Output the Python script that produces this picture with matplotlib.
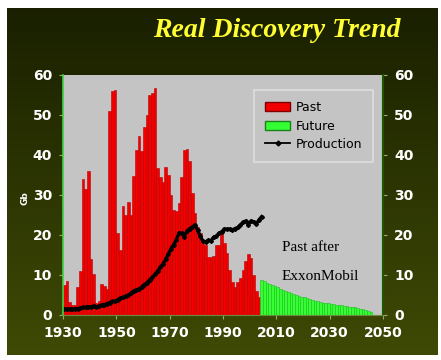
import numpy as np
import matplotlib
matplotlib.use("Agg")
import matplotlib.pyplot as plt
from matplotlib.patches import Patch
from matplotlib.lines import Line2D

# Discovery per year (Gb), past 1930-2003
past_years = list(range(1930, 2004))
past_discovery = [
    7.5, 8.6, 3.3, 2.6, 2.5, 7.0, 11.0, 34.0, 31.5, 36.0,
    14.0, 10.3, 3.0, 3.5, 7.7, 7.2, 6.5, 51.0, 56.0, 56.3,
    20.4, 16.2, 27.2, 25.0, 28.3, 25.0, 34.8, 41.2, 44.8, 41.0,
    47.0, 50.0, 55.0, 55.4, 56.8, 36.7, 34.5, 33.3, 37.0, 35.0,
    30.0, 26.2, 26.0, 28.0, 34.6, 41.2, 41.4, 38.5, 30.4, 25.4,
    22.0, 20.4, 18.0, 17.5, 14.6, 14.6, 14.8, 17.5, 17.5, 20.5,
    18.0, 15.4, 11.2, 8.3, 7.0, 8.3, 9.2, 11.2, 13.5, 15.2,
    14.2, 10.0, 6.0, 4.6,
]

# Future discovery (Gb), 2004-2045
future_years = list(range(2004, 2046))
future_discovery = [
    8.7, 8.4, 8.1, 7.8, 7.5, 7.2, 6.9, 6.6, 6.3, 6.0,
    5.8, 5.5, 5.3, 5.0, 4.8, 4.6, 4.4, 4.2, 4.0, 3.8,
    3.6, 3.4, 3.3, 3.1, 3.0, 2.9, 2.8, 2.7, 2.6, 2.5,
    2.4, 2.3, 2.2, 2.1, 2.0, 1.9, 1.7, 1.6, 1.4, 1.2,
    1.0, 0.8,
]

# Production (Gb/yr), 1930-2004
prod_years = list(range(1930, 2005))
production = [
    1.4, 1.4, 1.4, 1.5, 1.5, 1.6, 1.7, 1.9, 1.9, 2.0,
    2.1, 2.2, 2.1, 2.2, 2.5, 2.6, 2.8, 3.1, 3.4, 3.4,
    3.8, 4.2, 4.4, 4.7, 4.9, 5.5, 6.0, 6.3, 6.5, 7.0,
    7.6, 8.1, 8.8, 9.4, 10.2, 11.0, 11.9, 12.8, 13.9, 15.2,
    16.6, 17.6, 18.8, 20.5, 20.4, 19.6, 21.0, 21.6, 21.9, 22.6,
    21.2, 19.7, 18.4, 18.3, 18.7, 18.6, 19.5, 19.7, 20.5, 20.8,
    21.5, 21.4, 21.5, 21.3, 21.6, 21.9, 22.5, 23.2, 23.5, 22.6,
    23.5, 23.3, 22.8, 23.8, 24.6,
]

x_ticks = [1930, 1950, 1970, 1990, 2010, 2030, 2050]
y_ticks = [0, 10, 20, 30, 40, 50, 60]

W, H = 441, 360
fig = plt.figure(figsize=(W / 100, H / 100), dpi=100, facecolor="white")

# dark olive gradient panel behind everything
bg = fig.add_axes([7 / W, 5 / H, 431 / W, 347 / H])
top_c = np.array([0.10, 0.125, 0.0])
bot_c = np.array([0.245, 0.29, 0.02])
t = np.linspace(0, 1, 256)[:, None]
grad = top_c + (bot_c - top_c) * t
grad = np.repeat(grad[:, None, :], 2, axis=1)
bg.imshow(grad, aspect="auto", extent=[0, 1, 0, 1])
bg.axis("off")

ax = fig.add_axes([63 / W, 45 / H, 320 / W, 240 / H])
ax.set_facecolor("#c4c4c4")

ax.bar(past_years, past_discovery, width=1.0, align="edge",
       color="#f20000", edgecolor="#b80000", linewidth=0.4)
ax.bar(future_years, future_discovery, width=1.0, align="edge",
       color="#33ff33", edgecolor="#1fbf1f", linewidth=0.4)
ax.plot(np.array(prod_years) + 0.5, production, color="black",
        linewidth=2.4, marker="D", markersize=2.0)

ax.set_xlim(1930, 2050)
ax.set_ylim(0, 60)
ax.set_xticks(x_ticks)
ax.set_yticks(y_ticks)

ax.tick_params(axis="both", colors="#8fae6a", length=3, width=0.8,
               labelcolor="white", labelsize=10)
ax.tick_params(axis="y", right=True, labelright=True, pad=5)
ax.tick_params(axis="x", pad=5)
for tk in ax.xaxis.get_major_ticks() + ax.yaxis.get_major_ticks():
    tk.label1.set_fontweight("bold")
    tk.label2.set_fontweight("bold")

ax.spines["left"].set_color("#3fd23f")
ax.spines["left"].set_linewidth(1.2)
ax.spines["right"].set_color("#1d5500")
ax.spines["right"].set_linewidth(1.5)
ax.spines["bottom"].set_color("#6d8a3c")
ax.spines["top"].set_visible(False)

fig.text(25 / W, 1 - 198 / H, "Gb", rotation=90, color="white",
         fontsize=6.5, fontweight="bold", ha="center", va="center")

ax.text(2012, 16.8, "Past after", family="Liberation Serif",
        fontsize=11, color="black", va="center")
ax.text(2012, 9.5, "ExxonMobil", family="Liberation Serif",
        fontsize=11, color="black", va="center")

handles = [
    Patch(facecolor="#f20000", edgecolor="#800000", label="Past"),
    Patch(facecolor="#33ff33", edgecolor="#1a801a", label="Future"),
    Line2D([], [], color="black", linewidth=1.3, marker="D",
           markersize=2.5, label="Production"),
]
leg = ax.legend(handles=handles, loc="upper left",
                bbox_to_anchor=(0.597, 0.9375), borderaxespad=0,
                fontsize=9, frameon=True, fancybox=False,
                handlelength=2.0, handleheight=0.75, handletextpad=0.4,
                labelspacing=0.42, borderpad=0.9)
leg.get_frame().set_facecolor("#c4c4c4")
leg.get_frame().set_edgecolor("#e4e4e4")
leg.get_frame().set_linewidth(1.2)

fig.text(277 / W, 1 - 37 / H, "Real Discovery Trend",
         family="Liberation Serif", fontstyle="italic", fontweight="bold",
         fontsize=20, color="#ffff33", ha="center", va="baseline")

fig.savefig("out.png", dpi=100, facecolor="white")
